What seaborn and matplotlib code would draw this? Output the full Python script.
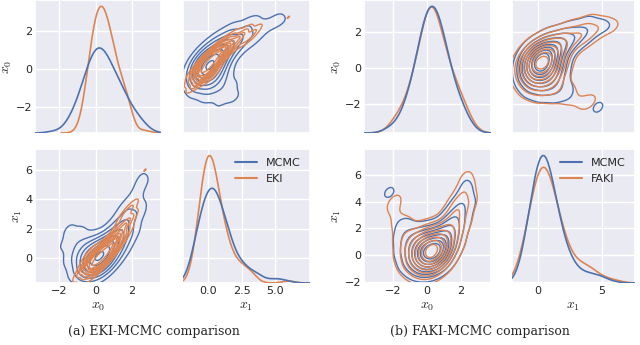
import pandas as pd
import matplotlib.pyplot as plt
from matplotlib.lines import Line2D
import seaborn as sns

# sample locations (x0, x1) and their weights
a_mcmc_x0 = [-2.3, -1.5, -1.5, -1.5, -1.0, -1.0, -1.0, -1.0, -0.5, -0.5, -0.5, -0.5, 0.0, 0.0, 0.0, 0.0, 0.5, 0.5,
             0.5, 0.5, 1.0, 1.0, 1.0, 1.0, 1.5, 1.5, 1.5, 1.5, 2.0, 2.0, 2.0, 2.5, 2.5, 3.0, 2.5]
a_mcmc_x1 = [0.5, 0.0, 1.0, 2.0, -0.8, 0.0, 0.8, 1.6, -1.0, -0.3, 0.4, 1.1, -1.0, -0.3, 0.4, 1.1, -0.8, -0.1,
             0.6, 1.3, -0.2, 0.6, 1.4, 2.2, 0.6, 1.5, 2.4, 3.3, 1.6, 2.7, 3.8, 3.5, 5.0, 3.0, 5.8]
a_mcmc_w = [0.5, 0.6, 0.7, 0.9, 1.2, 1.8, 1.3, 1.1, 2.5, 4, 3, 1.4, 3, 5.5, 5, 1.8, 2.5, 4.5,
            5, 2.3, 2, 4, 3.2, 1.3, 1.5, 3, 2.2, 0.9, 1, 1.8, 1.4, 0.7, 1.2, 0.4, 0.6]

a_eki_x0 = [-0.8, -0.4, -0.4, -0.4, 0.0, 0.0, 0.0, 0.4, 0.4, 0.4, 0.8, 0.8, 0.8, 1.2, 1.2, 1.2, 1.6, 1.6,
            1.6, 1.9, 1.9, 2.7]
a_eki_x1 = [-0.9, -0.9, -0.4, 0.1, -0.7, -0.2, 0.3, -0.3, 0.2, 0.7, 0.2, 0.7, 1.2, 0.8, 1.4, 2.0, 1.6, 2.3,
            3.0, 2.6, 3.3, 6.0]
a_eki_w = [1.5, 2.5, 5, 2, 4, 9, 4, 5, 9, 4, 4, 7, 3, 3, 4.5, 1.5, 2, 2.5,
           1.5, 1.2, 1.4, 0.6]

b_mcmc_x0 = [-2.2, -1.7, -1.7, -1.7, -1.2, -1.2, -1.2, -1.2, -0.7, -0.7, -0.7, -0.7, -0.2, -0.2, -0.2, -0.2, -0.2,
             0.3, 0.3, 0.3, 0.3, 0.3, 0.8, 0.8, 0.8, 0.8, 0.8, 1.3, 1.3, 1.3, 1.3, 1.3, 1.8, 1.8, 1.8, 1.8,
             2.3, 2.3, 2.3, 2.3, 2.8]
b_mcmc_x1 = [4.7, 0.2, 1.4, 2.5, -0.5, 0.5, 1.4, 2.3, -0.9, -0.1, 0.7, 1.5, -1.0, -0.3, 0.4, 1.1, 1.8,
             -1.0, -0.3, 0.4, 1.1, 1.8, -0.8, -0.1, 0.6, 1.3, 2.0, -0.3, 0.5, 1.3, 2.1, 2.9, 0.8, 1.8, 2.8, 3.8,
             2.6, 3.7, 4.8, 5.7, 4.0]
b_mcmc_w = [1.4, 0.5, 0.7, 0.6, 1.5, 2, 1.8, 1.0, 2, 4, 4, 2, 3, 6.5, 8, 4, 1.2,
            3, 7.5, 10, 5, 1.5, 2.5, 6.5, 8, 4.5, 1.5, 1.5, 3.5, 4, 3, 1.4, 1.2, 2.5, 2.5, 1.6,
            0.8, 1.3, 1.3, 0.7, 0.4]

b_faki_x0 = [-2.0, -1.7, -1.9, -1.7, -1.7, -1.7, -1.2, -1.2, -1.2, -1.2, -0.7, -0.7, -0.7, -0.7,
             -0.2, -0.2, -0.2, -0.2, -0.2, 0.3, 0.3, 0.3, 0.3, 0.3, 0.8, 0.8, 0.8, 0.8, 0.8,
             1.3, 1.3, 1.3, 1.3, 1.3, 1.8, 1.8, 1.8, 1.8, 2.3, 2.3, 2.3, 2.3, 2.8]
b_faki_x1 = [3.8, 4.3, 2.9, 0.0, 1.2, 2.3, -0.6, 0.4, 1.4, 2.4, -1.0, -0.2, 0.6, 1.4,
             -1.1, -0.3, 0.4, 1.1, 1.8, -1.1, -0.3, 0.4, 1.1, 1.8, -0.9, -0.1, 0.6, 1.3, 2.0,
             -0.4, 0.5, 1.3, 2.2, 3.1, 0.8, 1.9, 3.0, 4.0, 2.6, 3.8, 5.0, 6.0, 4.2]
b_faki_w = [1.2, 0.6, 0.7, 0.6, 0.8, 0.9, 1.5, 2, 1.8, 1.0, 2, 4, 4, 2.2,
            3, 6, 6.5, 4, 1.5, 3.5, 8, 10, 6, 2.5, 2.2, 5.5, 6, 4, 1.8,
            1.5, 3.5, 4, 3, 1.6, 1.2, 2.5, 2.8, 2.4, 1.0, 1.8, 2.0, 1.1, 0.5]

sns.set_theme(style="darkgrid")
plt.rcParams["mathtext.fontset"] = "cm"
pal = ["#4C72B0", "#DD8452"]


def frame(x0, x1, w, name):
    return pd.DataFrame({"x0": x0, "x1": x1, "w": w, "method": name})


def pair(fig, left, right, df, names, lim0, lim0y, lim1, lim1y, ticks1, fmt1, bw2, bw1):
    top, bot = [0.6145, 0.3855], [0.1797, 0.388]
    ax_tl = fig.add_axes([left[0], top[0], left[1], top[1]])
    ax_tr = fig.add_axes([right[0], top[0], right[1], top[1]], sharey=ax_tl)
    ax_bl = fig.add_axes([left[0], bot[0], left[1], bot[1]], sharex=ax_tl)
    ax_br = fig.add_axes([right[0], bot[0], right[1], bot[1]], sharex=ax_tr, sharey=ax_bl)

    kw = dict(data=df, hue="method", hue_order=names, palette=pal, weights="w", legend=False)
    # off-diagonal contours
    sns.kdeplot(x="x0", y="x1", ax=ax_bl, linewidths=1.0, bw_adjust=bw2, **kw)
    sns.kdeplot(x="x1", y="x0", ax=ax_tr, linewidths=1.0, bw_adjust=bw2, **kw)
    # diagonal marginals on twin axes
    for ax, var in [(ax_tl, "x0"), (ax_br, "x1")]:
        tw = ax.twinx()
        tw.set_axis_off()
        sns.kdeplot(x=var, ax=tw, linewidth=1.2, bw_adjust=bw1, **kw)

    ax_tl.set_xlim(*lim0)
    ax_tl.set_ylim(*lim0y)
    ax_tr.set_xlim(*lim1)
    ax_bl.set_ylim(*lim1y)
    ax_tl.set_yticks([-2, 0, 2])
    ax_tl.set_xticks([-2, 0, 2])
    ax_bl.set_yticks(ticks1)
    ax_tr.set_xticks([0, 2.5, 5] if fmt1 else [0, 5])
    if fmt1:
        ax_br.set_xticklabels(["0.0", "2.5", "5.0"])

    for ax in [ax_tl, ax_tr, ax_bl, ax_br]:
        ax.tick_params(labelsize=8, pad=2, length=0)
        ax.set_xlabel("")
        ax.set_ylabel("")
    ax_tl.tick_params(labelbottom=False)
    ax_tr.tick_params(labelbottom=False, labelleft=False)
    ax_br.tick_params(labelleft=False)

    ax_tl.set_ylabel("$x_0$", fontsize=10, labelpad=1)
    ax_bl.set_ylabel("$x_1$", fontsize=10, labelpad=1)
    ax_bl.set_xlabel("$x_0$", fontsize=10, labelpad=2)
    ax_br.set_xlabel("$x_1$", fontsize=10, labelpad=2)

    handles = [Line2D([], [], color=c, lw=1.5) for c in pal]
    ax_br.legend(handles, names, loc="upper right", frameon=False, fontsize=8,
                 handlelength=2.0, borderaxespad=0.4)


fig = plt.figure(figsize=(6.4, 3.45), dpi=100)

df_a = pd.concat([frame(a_mcmc_x0, a_mcmc_x1, a_mcmc_w, "MCMC"), frame(a_eki_x0, a_eki_x1, a_eki_w, "EKI")])
pair(fig, (0.0547, 0.197), (0.286, 0.198), df_a, ["MCMC", "EKI"],
     (-3.34, 3.59), (-3.35, 3.6), (-1.9, 7.6), (-1.73, 7.44), [0, 2, 4, 6], True, 0.7, 0.75)

df_b = pd.concat([frame(b_mcmc_x0, b_mcmc_x1, b_mcmc_w, "MCMC"), frame(b_faki_x0, b_faki_x1, b_faki_w, "FAKI")])
pair(fig, (0.569, 0.198), (0.8, 0.192), df_b, ["MCMC", "FAKI"],
     (-3.67, 3.76), (-3.63, 3.76), (-2.06, 7.6), (-2.1, 7.95), [-2, 0, 2, 4, 6], False, 0.75, 0.9)

fig.text(0.241, 0.03, "(a) EKI-MCMC comparison", ha="center", fontsize=9, family="DejaVu Serif")
fig.text(0.75, 0.03, "(b) FAKI-MCMC comparison", ha="center", fontsize=9, family="DejaVu Serif")

fig.savefig("out.png", dpi=100)
